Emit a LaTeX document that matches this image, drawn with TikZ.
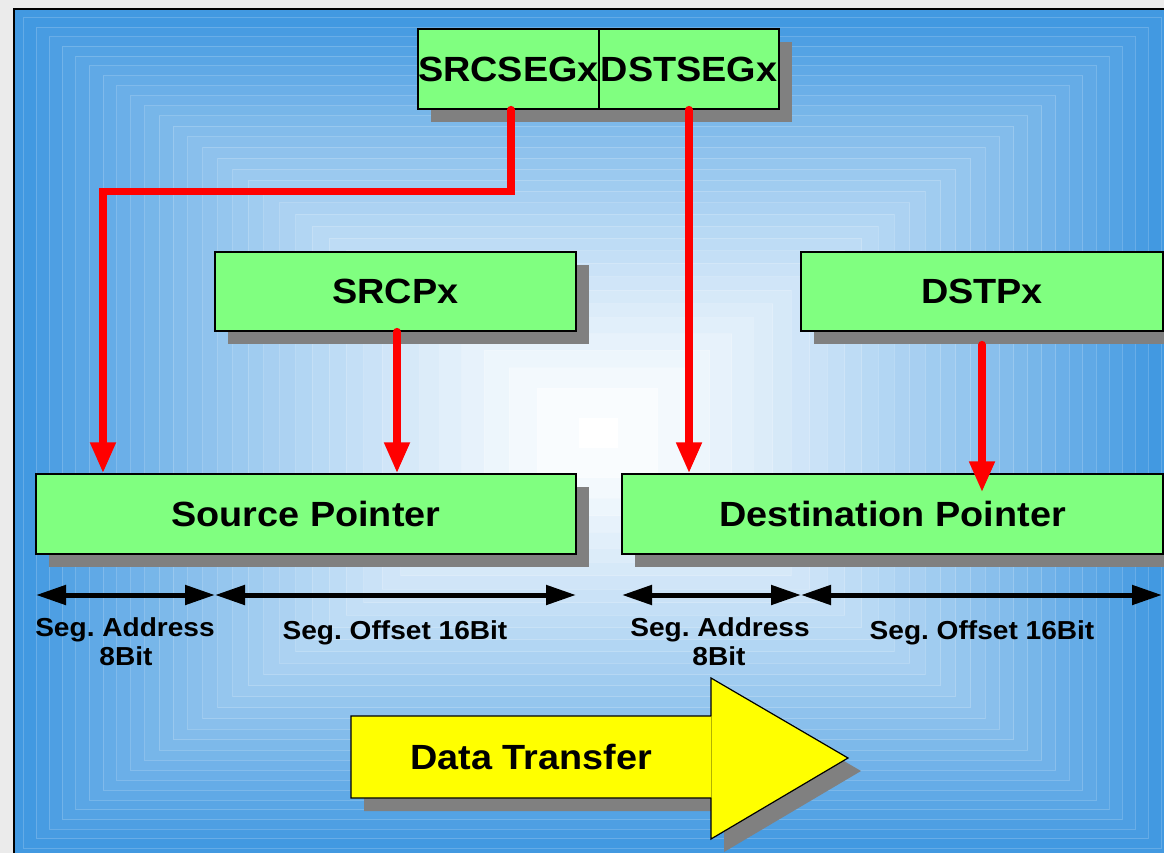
\documentclass[tikz,border=0pt]{standalone}
\usepackage{fontspec}
\setmainfont{Liberation Sans}[FakeStretch=1.08]
\usetikzlibrary{arrows.meta}

\definecolor{framegray}{RGB}{235,235,235}
\definecolor{bgblue}{RGB}{66,153,225}
\definecolor{boxgreen}{RGB}{128,255,128}
\definecolor{shadowgray}{RGB}{128,128,128}
\definecolor{arrowred}{RGB}{255,0,0}
\definecolor{banneryellow}{RGB}{255,255,0}

\newcommand{\bigfont}{\bfseries\fontsize{35}{40}\selectfont}
\newcommand{\smallfont}{\bfseries\fontsize{26}{29}\selectfont}
\frenchspacing

\begin{document}
\begin{tikzpicture}[x=1pt,y=-1pt,
  shadowed/.style={preaction={fill=shadowgray,transform canvas={shift={(13pt,-13pt)}}}},
  regbox/.style={shadowed,draw=black,line width=1.3pt,fill=boxgreen,inner sep=0pt,font=\bigfont},
  redarrow/.style={draw=arrowred,line width=7.5pt,line cap=round,
    -{Triangle[length=31pt,width=24pt]}},
  spanarrow/.style={draw=black,line width=5pt,
    {Triangle[length=30pt,width=19pt]}-{Triangle[length=30pt,width=19pt]}},
  lab/.style={font=\smallfont,inner sep=0pt,anchor=base},
]
\useasboundingbox (0,0) rectangle (1164,853);

% frame and backdrop
\fill[framegray] (0,0) rectangle (1164,853);
\fill[bgblue] (15,10) rectangle (1164,853);
\draw[black,line width=1.8pt] (14,853) -- (14,9) -- (1164,9);
\begin{scope}
  \clip (15,10) rectangle (1164,853);
  \foreach \k in {32,31,...,1}{
    \pgfmathsetmacro{\s}{(\k/32)^0.75}
    \pgfmathsetmacro{\pc}{100*\k/32}
    \pgfmathsetmacro{\xl}{578.5-555.5*\s}
    \pgfmathsetmacro{\xr}{617.5+543.5*\s}
    \pgfmathsetmacro{\yt}{418-400*\s}
    \pgfmathsetmacro{\yb}{448+400*\s}
    \fill[bgblue!\pc!white] (\xl,\yt) rectangle (\xr,\yb);
    \draw[white,opacity=0.18,line width=1pt] (\xl,\yt) rectangle (\xr,\yb);
  }
  \fill[white] (578.5,418) rectangle (617.5,448);
\end{scope}

% registers
\node[regbox,minimum width=181,minimum height=80] (srcseg) at (508.5,69) {SRCSEGx};
\node[regbox,minimum width=180,minimum height=80] (dstseg) at (689,69) {DSTSEGx};
\node[regbox,minimum width=361,minimum height=79] (srcp) at (395.5,291.5) {SRCPx};
\node[regbox,minimum width=362,minimum height=79] (dstp) at (982,291.5) {DSTPx};
\node[regbox,minimum width=540,minimum height=80] (srcptr) at (306,514) {Source Pointer};
\node[regbox,minimum width=541,minimum height=80] (dstptr) at (892.5,514) {Destination Pointer};

% register-to-pointer connections
\draw[redarrow] ([xshift=2.5pt]srcseg.south) -- ++(0,82) -| ([xshift=-203pt]srcptr.north);
\draw[redarrow] (dstseg.south) -- (dstseg.south |- dstptr.north);
\draw[redarrow] ([xshift=1.5pt]srcp.south) -- ([xshift=1.5pt]srcp.south |- srcptr.north);
\draw[redarrow] ([yshift=-13pt]dstp.south) -- ([yshift=-19pt]dstp.south |- dstptr.north);

% field widths
\coordinate (s0) at (36,595);
\coordinate (s1) at (215,595);
\coordinate (s2) at (576,595);
\coordinate (d0) at (622,595);
\coordinate (d1) at (801,595);
\coordinate (d2) at (1162,595);
\draw[spanarrow] (s0) -- (s1);
\draw[spanarrow] (s1) -- (s2);
\draw[spanarrow] (d0) -- (d1);
\draw[spanarrow] (d1) -- (d2);

\node[lab] (srcaddr) at (125,636) {Seg. Address};
\node[lab] (srcaddrbits) at (126,665) {8Bit};
\node[lab] (srcoff) at (395,639) {Seg. Offset 16Bit};
\node[lab] (dstaddr) at (720,636) {Seg. Address};
\node[lab] (dstaddrbits) at (719,665) {8Bit};
\node[lab] (dstoff) at (982,639) {Seg. Offset 16Bit};

% transfer direction
\path[shadowed,fill=banneryellow,draw=black,line width=1.2pt,line join=miter]
  (351,716) -- (711,716) -- (711,678) -- (848,758) -- (711,839) -- (711,798) -- (351,798) -- cycle;
\draw[banneryellow!70!black,line width=0.6pt] (711,716.6) -- (711,797.4);
\node[font=\bigfont,inner sep=0pt] (transfer) at (531,757) {Data Transfer};
\end{tikzpicture}
\end{document}
